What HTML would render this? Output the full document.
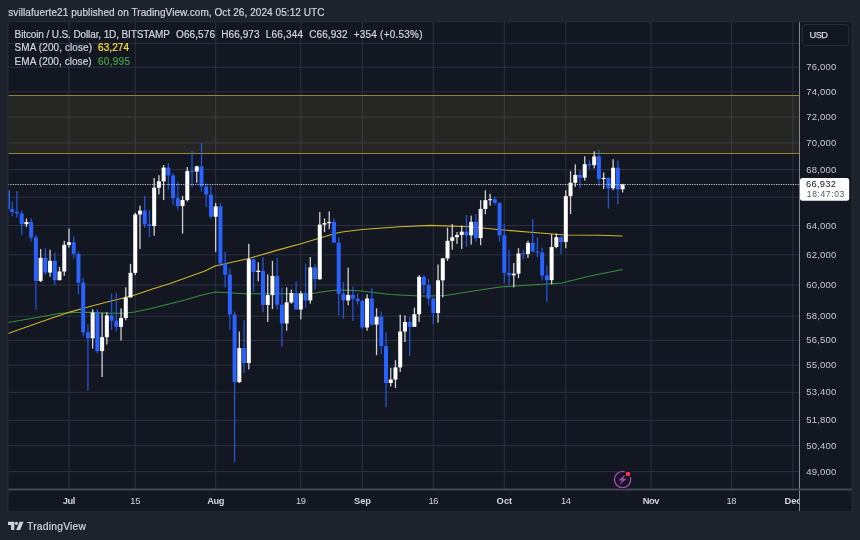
<!DOCTYPE html><html><head><meta charset="utf-8"><title>BTCUSD chart</title><style>
html,body{margin:0;padding:0;background:#1e222d;}
body{width:860px;height:540px;overflow:hidden;position:relative;font-family:"Liberation Sans",Arial,sans-serif;color:#d1d4dc;}
svg{position:absolute;left:0;top:0;}
text{font-family:"Liberation Sans",Arial,sans-serif;}

</style></head><body>
<svg width="860" height="540" viewBox="0 0 860 540">
<rect x="0" y="0" width="860" height="540" fill="#1e222d"/>
<rect x="7.5" y="21" width="845.2" height="491.4" fill="#131722"/>
<g stroke="#2c3144" stroke-width="1">
<line x1="8" y1="43.32" x2="799.5" y2="43.32"/>
<line x1="8" y1="67.25" x2="799.5" y2="67.25"/>
<line x1="8" y1="91.82" x2="799.5" y2="91.82"/>
<line x1="8" y1="117.06" x2="799.5" y2="117.06"/>
<line x1="8" y1="143.01" x2="799.5" y2="143.01"/>
<line x1="8" y1="169.71" x2="799.5" y2="169.71"/>
<line x1="8" y1="197.21" x2="799.5" y2="197.21"/>
<line x1="8" y1="225.56" x2="799.5" y2="225.56"/>
<line x1="8" y1="254.81" x2="799.5" y2="254.81"/>
<line x1="8" y1="285.01" x2="799.5" y2="285.01"/>
<line x1="8" y1="316.24" x2="799.5" y2="316.24"/>
<line x1="8" y1="340.38" x2="799.5" y2="340.38"/>
<line x1="8" y1="365.17" x2="799.5" y2="365.17"/>
<line x1="8" y1="392.36" x2="799.5" y2="392.36"/>
<line x1="8" y1="420.39" x2="799.5" y2="420.39"/>
<line x1="8" y1="445.63" x2="799.5" y2="445.63"/>
<line x1="8" y1="471.58" x2="799.5" y2="471.58"/>
<line x1="69.0" y1="21.5" x2="69.0" y2="489.5"/>
<line x1="135.24" y1="21.5" x2="135.24" y2="489.5"/>
<line x1="215.68" y1="21.5" x2="215.68" y2="489.5"/>
<line x1="300.84" y1="21.5" x2="300.84" y2="489.5"/>
<line x1="362.35" y1="21.5" x2="362.35" y2="489.5"/>
<line x1="433.33" y1="21.5" x2="433.33" y2="489.5"/>
<line x1="504.3" y1="21.5" x2="504.3" y2="489.5"/>
<line x1="565.81" y1="21.5" x2="565.81" y2="489.5"/>
<line x1="650.97" y1="21.5" x2="650.97" y2="489.5"/>
<line x1="731.41" y1="21.5" x2="731.41" y2="489.5"/>
<line x1="792.92" y1="21.5" x2="792.92" y2="489.5"/>
</g>
<rect x="8" y="95" width="791.5" height="58" fill="#d1ad36" fill-opacity="0.1"/>
<line x1="8" y1="95.5" x2="799.5" y2="95.5" stroke="#8f8430" stroke-width="1"/>
<line x1="8" y1="153.5" x2="799.5" y2="153.5" stroke="#8f8430" stroke-width="1"/>
<clipPath id="cp"><rect x="8" y="21.5" width="791.5" height="468.0"/></clipPath>
<g clip-path="url(#cp)">
<path d="M8,322.5 L40,317 L60,313.3 L75,312.5 L91.3,312.4 L108,313.1 L124.7,313.2 L134.7,312 L151,308.5 L160,306.3 L185,300 L200,295.5 L215,292 L245,293.7 L300,293.7 L312,293.5 L325,291.5 L335,290.3 L345,290 L362,291 L390,294.5 L420,296 L430,296 L445,295.5 L480,290 L500,287 L530,285 L562,283 L590,276 L622.5,269.5" fill="none" stroke="#388e3c" stroke-width="1.1" stroke-linejoin="round"/>
<path d="M8,333.6 L25,327.4 L41.3,321.7 L60,315.3 L69.7,312.1 L90,306.5 L108,301.7 L122.5,298.2 L134.7,295 L151,289.6 L170,283.5 L205,271 L215,266 L250,258.2 L277.5,250.1 L300,244 L330,235 L336,233.3 L342,232 L362,229.5 L400,226.7 L430,225.4 L470,226.7 L503,230 L540,233 L566,235 L600,235.3 L622.5,236" fill="none" stroke="#cfb62d" stroke-width="1.1" stroke-linejoin="round"/>
<rect x="6.84" y="188.92" width="1.3" height="35.96" fill="#2962ff" opacity="0.8"/>
<rect x="6.00" y="190.31" width="4.0" height="18.89" fill="#2962ff"/>
<rect x="11.57" y="201.46" width="1.3" height="14.84" fill="#2962ff" opacity="0.8"/>
<rect x="10.22" y="209.20" width="4.0" height="2.69" fill="#2962ff"/>
<rect x="16.30" y="191.00" width="1.3" height="26.72" fill="#2962ff" opacity="0.8"/>
<rect x="14.95" y="211.89" width="4.0" height="1.56" fill="#2962ff"/>
<rect x="21.04" y="210.62" width="1.3" height="24.39" fill="#2962ff" opacity="0.8"/>
<rect x="19.69" y="213.45" width="4.0" height="10.72" fill="#2962ff"/>
<rect x="25.77" y="218.44" width="1.3" height="8.61" fill="#ffffff" opacity="0.8"/>
<rect x="24.42" y="222.02" width="4.0" height="2.15" fill="#ffffff"/>
<rect x="30.50" y="218.44" width="1.3" height="23.14" fill="#2962ff" opacity="0.8"/>
<rect x="29.15" y="222.02" width="4.0" height="15.47" fill="#2962ff"/>
<rect x="35.23" y="235.01" width="1.3" height="74.95" fill="#2962ff" opacity="0.8"/>
<rect x="33.88" y="237.49" width="4.0" height="43.44" fill="#2962ff"/>
<rect x="39.96" y="248.93" width="1.3" height="33.06" fill="#ffffff" opacity="0.8"/>
<rect x="38.61" y="257.83" width="4.0" height="23.09" fill="#ffffff"/>
<rect x="44.69" y="248.19" width="1.3" height="26.94" fill="#2962ff" opacity="0.8"/>
<rect x="43.34" y="257.83" width="4.0" height="14.73" fill="#2962ff"/>
<rect x="49.42" y="249.67" width="1.3" height="26.99" fill="#ffffff" opacity="0.8"/>
<rect x="48.07" y="260.82" width="4.0" height="11.74" fill="#ffffff"/>
<rect x="54.16" y="252.63" width="1.3" height="32.43" fill="#2962ff" opacity="0.8"/>
<rect x="52.81" y="260.82" width="4.0" height="19.34" fill="#2962ff"/>
<rect x="58.89" y="266.82" width="1.3" height="13.65" fill="#ffffff" opacity="0.8"/>
<rect x="57.54" y="271.50" width="4.0" height="8.66" fill="#ffffff"/>
<rect x="63.62" y="240.85" width="1.3" height="35.05" fill="#ffffff" opacity="0.8"/>
<rect x="62.27" y="244.81" width="4.0" height="26.69" fill="#ffffff"/>
<rect x="68.35" y="228.49" width="1.3" height="18.96" fill="#ffffff" opacity="0.8"/>
<rect x="67.00" y="242.31" width="4.0" height="2.50" fill="#ffffff"/>
<rect x="73.08" y="236.47" width="1.3" height="22.11" fill="#2962ff" opacity="0.8"/>
<rect x="71.73" y="242.31" width="4.0" height="11.50" fill="#2962ff"/>
<rect x="77.81" y="251.15" width="1.3" height="43.17" fill="#2962ff" opacity="0.8"/>
<rect x="76.46" y="253.82" width="4.0" height="28.95" fill="#2962ff"/>
<rect x="82.54" y="278.18" width="1.3" height="58.18" fill="#2962ff" opacity="0.8"/>
<rect x="81.19" y="282.76" width="4.0" height="49.55" fill="#2962ff"/>
<rect x="87.28" y="324.27" width="1.3" height="66.42" fill="#2962ff" opacity="0.8"/>
<rect x="85.93" y="332.31" width="4.0" height="6.00" fill="#2962ff"/>
<rect x="92.01" y="309.17" width="1.3" height="39.45" fill="#ffffff" opacity="0.8"/>
<rect x="90.66" y="312.65" width="4.0" height="25.67" fill="#ffffff"/>
<rect x="96.74" y="309.17" width="1.3" height="44.39" fill="#2962ff" opacity="0.8"/>
<rect x="95.39" y="312.65" width="4.0" height="38.44" fill="#2962ff"/>
<rect x="101.47" y="313.12" width="1.3" height="63.90" fill="#ffffff" opacity="0.8"/>
<rect x="100.12" y="337.17" width="4.0" height="13.91" fill="#ffffff"/>
<rect x="106.20" y="312.33" width="1.3" height="32.18" fill="#ffffff" opacity="0.8"/>
<rect x="104.85" y="315.50" width="4.0" height="21.68" fill="#ffffff"/>
<rect x="110.93" y="293.54" width="1.3" height="36.35" fill="#2962ff" opacity="0.8"/>
<rect x="109.58" y="315.50" width="4.0" height="5.25" fill="#2962ff"/>
<rect x="115.66" y="292.77" width="1.3" height="38.73" fill="#2962ff" opacity="0.8"/>
<rect x="114.31" y="320.75" width="4.0" height="6.08" fill="#2962ff"/>
<rect x="120.40" y="308.38" width="1.3" height="32.04" fill="#ffffff" opacity="0.8"/>
<rect x="119.05" y="318.04" width="4.0" height="8.79" fill="#ffffff"/>
<rect x="125.13" y="287.37" width="1.3" height="32.90" fill="#ffffff" opacity="0.8"/>
<rect x="123.78" y="297.43" width="4.0" height="20.61" fill="#ffffff"/>
<rect x="129.86" y="263.81" width="1.3" height="33.61" fill="#ffffff" opacity="0.8"/>
<rect x="128.51" y="272.86" width="4.0" height="24.57" fill="#ffffff"/>
<rect x="134.59" y="212.74" width="1.3" height="62.39" fill="#ffffff" opacity="0.8"/>
<rect x="133.24" y="214.45" width="4.0" height="58.41" fill="#ffffff"/>
<rect x="139.32" y="205.67" width="1.3" height="43.26" fill="#ffffff" opacity="0.8"/>
<rect x="137.97" y="210.62" width="4.0" height="3.83" fill="#ffffff"/>
<rect x="144.05" y="195.87" width="1.3" height="31.90" fill="#2962ff" opacity="0.8"/>
<rect x="142.70" y="210.62" width="4.0" height="13.70" fill="#2962ff"/>
<rect x="148.79" y="209.91" width="1.3" height="27.29" fill="#2962ff" opacity="0.8"/>
<rect x="147.44" y="224.31" width="4.0" height="1.73" fill="#2962ff"/>
<rect x="153.52" y="177.93" width="1.3" height="57.81" fill="#ffffff" opacity="0.8"/>
<rect x="152.17" y="187.68" width="4.0" height="38.36" fill="#ffffff"/>
<rect x="158.25" y="175.20" width="1.3" height="19.28" fill="#ffffff" opacity="0.8"/>
<rect x="156.90" y="181.35" width="4.0" height="6.33" fill="#ffffff"/>
<rect x="162.98" y="165.03" width="1.3" height="35.03" fill="#ffffff" opacity="0.8"/>
<rect x="161.63" y="167.60" width="4.0" height="13.75" fill="#ffffff"/>
<rect x="167.71" y="163.01" width="1.3" height="26.60" fill="#2962ff" opacity="0.8"/>
<rect x="166.36" y="167.60" width="4.0" height="7.87" fill="#2962ff"/>
<rect x="172.44" y="173.15" width="1.3" height="31.82" fill="#2962ff" opacity="0.8"/>
<rect x="171.09" y="175.47" width="4.0" height="22.77" fill="#2962ff"/>
<rect x="177.17" y="182.03" width="1.3" height="27.88" fill="#2962ff" opacity="0.8"/>
<rect x="175.82" y="198.24" width="4.0" height="7.86" fill="#2962ff"/>
<rect x="181.91" y="195.87" width="1.3" height="37.69" fill="#ffffff" opacity="0.8"/>
<rect x="180.56" y="200.06" width="4.0" height="6.04" fill="#ffffff"/>
<rect x="186.64" y="167.06" width="1.3" height="34.40" fill="#ffffff" opacity="0.8"/>
<rect x="185.29" y="171.12" width="4.0" height="28.94" fill="#ffffff"/>
<rect x="191.37" y="150.99" width="1.3" height="36.55" fill="#2962ff" opacity="0.8"/>
<rect x="190.02" y="170.82" width="4.0" height="1.00" fill="#2962ff"/>
<rect x="196.10" y="165.71" width="1.3" height="17.02" fill="#ffffff" opacity="0.8"/>
<rect x="194.75" y="166.38" width="4.0" height="5.14" fill="#ffffff"/>
<rect x="200.83" y="143.06" width="1.3" height="48.64" fill="#2962ff" opacity="0.8"/>
<rect x="199.48" y="166.38" width="4.0" height="20.06" fill="#2962ff"/>
<rect x="205.56" y="183.41" width="1.3" height="23.68" fill="#2962ff" opacity="0.8"/>
<rect x="204.21" y="186.44" width="4.0" height="8.17" fill="#2962ff"/>
<rect x="210.29" y="185.47" width="1.3" height="32.97" fill="#2962ff" opacity="0.8"/>
<rect x="208.94" y="194.61" width="4.0" height="22.11" fill="#2962ff"/>
<rect x="215.03" y="202.86" width="1.3" height="49.03" fill="#ffffff" opacity="0.8"/>
<rect x="213.68" y="206.38" width="4.0" height="10.35" fill="#ffffff"/>
<rect x="219.76" y="202.86" width="1.3" height="63.96" fill="#2962ff" opacity="0.8"/>
<rect x="218.41" y="206.38" width="4.0" height="57.13" fill="#2962ff"/>
<rect x="224.49" y="251.89" width="1.3" height="35.48" fill="#2962ff" opacity="0.8"/>
<rect x="223.14" y="263.51" width="4.0" height="11.17" fill="#2962ff"/>
<rect x="229.22" y="268.33" width="1.3" height="61.57" fill="#2962ff" opacity="0.8"/>
<rect x="227.87" y="274.68" width="4.0" height="39.71" fill="#2962ff"/>
<rect x="233.95" y="311.54" width="1.3" height="150.74" fill="#2962ff" opacity="0.8"/>
<rect x="232.60" y="314.39" width="4.0" height="67.73" fill="#2962ff"/>
<rect x="238.68" y="331.51" width="1.3" height="51.47" fill="#ffffff" opacity="0.8"/>
<rect x="237.33" y="348.12" width="4.0" height="34.00" fill="#ffffff"/>
<rect x="243.42" y="320.27" width="1.3" height="52.51" fill="#2962ff" opacity="0.8"/>
<rect x="242.07" y="348.12" width="4.0" height="14.92" fill="#2962ff"/>
<rect x="248.15" y="243.78" width="1.3" height="125.63" fill="#ffffff" opacity="0.8"/>
<rect x="246.80" y="259.32" width="4.0" height="103.72" fill="#ffffff"/>
<rect x="252.88" y="258.58" width="1.3" height="33.42" fill="#2962ff" opacity="0.8"/>
<rect x="251.53" y="259.32" width="4.0" height="12.63" fill="#2962ff"/>
<rect x="257.61" y="262.31" width="1.3" height="18.92" fill="#ffffff" opacity="0.8"/>
<rect x="256.26" y="270.74" width="4.0" height="1.21" fill="#ffffff"/>
<rect x="262.34" y="257.09" width="1.3" height="55.24" fill="#2962ff" opacity="0.8"/>
<rect x="260.99" y="270.74" width="4.0" height="34.19" fill="#2962ff"/>
<rect x="267.07" y="274.38" width="1.3" height="47.49" fill="#ffffff" opacity="0.8"/>
<rect x="265.72" y="295.10" width="4.0" height="9.83" fill="#ffffff"/>
<rect x="271.80" y="260.82" width="1.3" height="48.35" fill="#ffffff" opacity="0.8"/>
<rect x="270.45" y="275.90" width="4.0" height="19.20" fill="#ffffff"/>
<rect x="276.54" y="257.83" width="1.3" height="51.34" fill="#2962ff" opacity="0.8"/>
<rect x="275.19" y="275.90" width="4.0" height="28.87" fill="#2962ff"/>
<rect x="281.27" y="287.37" width="1.3" height="59.61" fill="#2962ff" opacity="0.8"/>
<rect x="279.92" y="304.77" width="4.0" height="18.70" fill="#2962ff"/>
<rect x="286.00" y="287.37" width="1.3" height="43.33" fill="#ffffff" opacity="0.8"/>
<rect x="284.65" y="302.42" width="4.0" height="21.05" fill="#ffffff"/>
<rect x="290.73" y="289.68" width="1.3" height="13.99" fill="#ffffff" opacity="0.8"/>
<rect x="289.38" y="293.08" width="4.0" height="9.34" fill="#ffffff"/>
<rect x="295.46" y="281.23" width="1.3" height="28.73" fill="#2962ff" opacity="0.8"/>
<rect x="294.11" y="293.08" width="4.0" height="16.41" fill="#2962ff"/>
<rect x="300.19" y="291.22" width="1.3" height="28.25" fill="#ffffff" opacity="0.8"/>
<rect x="298.84" y="293.70" width="4.0" height="15.79" fill="#ffffff"/>
<rect x="304.93" y="263.81" width="1.3" height="43.78" fill="#2962ff" opacity="0.8"/>
<rect x="303.57" y="293.70" width="4.0" height="6.69" fill="#2962ff"/>
<rect x="309.66" y="257.09" width="1.3" height="46.59" fill="#ffffff" opacity="0.8"/>
<rect x="308.31" y="267.42" width="4.0" height="32.97" fill="#ffffff"/>
<rect x="314.39" y="263.81" width="1.3" height="25.87" fill="#2962ff" opacity="0.8"/>
<rect x="313.04" y="267.42" width="4.0" height="11.82" fill="#2962ff"/>
<rect x="319.12" y="212.03" width="1.3" height="67.67" fill="#ffffff" opacity="0.8"/>
<rect x="317.77" y="224.60" width="4.0" height="54.64" fill="#ffffff"/>
<rect x="323.85" y="218.44" width="1.3" height="13.67" fill="#ffffff" opacity="0.8"/>
<rect x="322.50" y="223.16" width="4.0" height="1.44" fill="#ffffff"/>
<rect x="328.58" y="211.33" width="1.3" height="17.89" fill="#ffffff" opacity="0.8"/>
<rect x="327.23" y="221.87" width="4.0" height="1.29" fill="#ffffff"/>
<rect x="333.31" y="218.44" width="1.3" height="24.61" fill="#2962ff" opacity="0.8"/>
<rect x="331.96" y="221.87" width="4.0" height="20.73" fill="#2962ff"/>
<rect x="338.05" y="237.20" width="1.3" height="78.30" fill="#2962ff" opacity="0.8"/>
<rect x="336.70" y="242.60" width="4.0" height="51.25" fill="#2962ff"/>
<rect x="342.78" y="282.00" width="1.3" height="36.68" fill="#2962ff" opacity="0.8"/>
<rect x="341.43" y="293.85" width="4.0" height="6.53" fill="#2962ff"/>
<rect x="347.51" y="267.57" width="1.3" height="37.67" fill="#ffffff" opacity="0.8"/>
<rect x="346.16" y="294.94" width="4.0" height="5.45" fill="#ffffff"/>
<rect x="352.24" y="286.60" width="1.3" height="34.47" fill="#2962ff" opacity="0.8"/>
<rect x="350.89" y="294.94" width="4.0" height="3.73" fill="#2962ff"/>
<rect x="356.97" y="293.54" width="1.3" height="10.91" fill="#2962ff" opacity="0.8"/>
<rect x="355.62" y="298.67" width="4.0" height="2.34" fill="#2962ff"/>
<rect x="361.70" y="299.76" width="1.3" height="29.32" fill="#2962ff" opacity="0.8"/>
<rect x="360.35" y="301.01" width="4.0" height="26.46" fill="#2962ff"/>
<rect x="366.43" y="294.32" width="1.3" height="36.38" fill="#ffffff" opacity="0.8"/>
<rect x="365.08" y="298.52" width="4.0" height="28.96" fill="#ffffff"/>
<rect x="371.17" y="288.14" width="1.3" height="37.73" fill="#2962ff" opacity="0.8"/>
<rect x="369.82" y="298.52" width="4.0" height="26.07" fill="#2962ff"/>
<rect x="375.90" y="308.38" width="1.3" height="46.84" fill="#ffffff" opacity="0.8"/>
<rect x="374.55" y="316.77" width="4.0" height="7.82" fill="#ffffff"/>
<rect x="380.63" y="311.54" width="1.3" height="42.85" fill="#2962ff" opacity="0.8"/>
<rect x="379.28" y="316.77" width="4.0" height="29.22" fill="#2962ff"/>
<rect x="385.36" y="332.31" width="1.3" height="74.88" fill="#2962ff" opacity="0.8"/>
<rect x="384.01" y="345.99" width="4.0" height="36.98" fill="#2962ff"/>
<rect x="390.09" y="367.73" width="1.3" height="18.66" fill="#ffffff" opacity="0.8"/>
<rect x="388.74" y="379.56" width="4.0" height="3.41" fill="#ffffff"/>
<rect x="394.82" y="360.21" width="1.3" height="27.90" fill="#ffffff" opacity="0.8"/>
<rect x="393.47" y="367.40" width="4.0" height="12.17" fill="#ffffff"/>
<rect x="399.56" y="314.70" width="1.3" height="57.24" fill="#ffffff" opacity="0.8"/>
<rect x="398.20" y="331.51" width="4.0" height="35.89" fill="#ffffff"/>
<rect x="404.29" y="315.50" width="1.3" height="26.56" fill="#ffffff" opacity="0.8"/>
<rect x="402.94" y="322.03" width="4.0" height="9.48" fill="#ffffff"/>
<rect x="409.02" y="317.09" width="1.3" height="38.96" fill="#2962ff" opacity="0.8"/>
<rect x="407.67" y="322.03" width="4.0" height="4.81" fill="#2962ff"/>
<rect x="413.75" y="307.60" width="1.3" height="19.08" fill="#ffffff" opacity="0.8"/>
<rect x="412.40" y="314.23" width="4.0" height="12.61" fill="#ffffff"/>
<rect x="418.48" y="275.14" width="1.3" height="46.73" fill="#ffffff" opacity="0.8"/>
<rect x="417.13" y="276.81" width="4.0" height="37.42" fill="#ffffff"/>
<rect x="423.21" y="275.14" width="1.3" height="18.41" fill="#2962ff" opacity="0.8"/>
<rect x="421.86" y="276.81" width="4.0" height="8.25" fill="#2962ff"/>
<rect x="427.94" y="278.94" width="1.3" height="26.30" fill="#2962ff" opacity="0.8"/>
<rect x="426.59" y="285.06" width="4.0" height="13.46" fill="#2962ff"/>
<rect x="432.68" y="297.43" width="1.3" height="26.84" fill="#2962ff" opacity="0.8"/>
<rect x="431.33" y="298.52" width="4.0" height="14.45" fill="#2962ff"/>
<rect x="437.41" y="264.56" width="1.3" height="58.10" fill="#ffffff" opacity="0.8"/>
<rect x="436.06" y="280.31" width="4.0" height="32.65" fill="#ffffff"/>
<rect x="442.14" y="257.83" width="1.3" height="39.59" fill="#ffffff" opacity="0.8"/>
<rect x="440.79" y="258.43" width="4.0" height="21.89" fill="#ffffff"/>
<rect x="446.87" y="227.77" width="1.3" height="33.05" fill="#ffffff" opacity="0.8"/>
<rect x="445.52" y="240.85" width="4.0" height="17.58" fill="#ffffff"/>
<rect x="451.60" y="224.17" width="1.3" height="25.50" fill="#ffffff" opacity="0.8"/>
<rect x="450.25" y="237.20" width="4.0" height="3.65" fill="#ffffff"/>
<rect x="456.33" y="232.11" width="1.3" height="11.67" fill="#ffffff" opacity="0.8"/>
<rect x="454.98" y="235.01" width="4.0" height="2.18" fill="#ffffff"/>
<rect x="461.06" y="225.61" width="1.3" height="23.32" fill="#ffffff" opacity="0.8"/>
<rect x="459.71" y="231.67" width="4.0" height="3.34" fill="#ffffff"/>
<rect x="465.80" y="214.88" width="1.3" height="31.84" fill="#2962ff" opacity="0.8"/>
<rect x="464.45" y="231.67" width="4.0" height="3.63" fill="#2962ff"/>
<rect x="470.53" y="215.59" width="1.3" height="28.93" fill="#ffffff" opacity="0.8"/>
<rect x="469.18" y="221.87" width="4.0" height="13.43" fill="#ffffff"/>
<rect x="475.26" y="214.16" width="1.3" height="27.41" fill="#2962ff" opacity="0.8"/>
<rect x="473.91" y="221.87" width="4.0" height="16.20" fill="#2962ff"/>
<rect x="479.99" y="200.06" width="1.3" height="45.19" fill="#ffffff" opacity="0.8"/>
<rect x="478.64" y="208.92" width="4.0" height="29.15" fill="#ffffff"/>
<rect x="484.72" y="190.31" width="1.3" height="23.86" fill="#ffffff" opacity="0.8"/>
<rect x="483.37" y="200.20" width="4.0" height="8.72" fill="#ffffff"/>
<rect x="489.45" y="193.78" width="1.3" height="11.90" fill="#ffffff" opacity="0.8"/>
<rect x="488.10" y="199.21" width="4.0" height="1.00" fill="#ffffff"/>
<rect x="494.19" y="196.56" width="1.3" height="8.41" fill="#2962ff" opacity="0.8"/>
<rect x="492.83" y="199.22" width="4.0" height="3.64" fill="#2962ff"/>
<rect x="498.92" y="202.86" width="1.3" height="38.72" fill="#2962ff" opacity="0.8"/>
<rect x="497.57" y="202.86" width="4.0" height="32.44" fill="#2962ff"/>
<rect x="503.65" y="224.17" width="1.3" height="58.59" fill="#2962ff" opacity="0.8"/>
<rect x="502.30" y="235.30" width="4.0" height="37.56" fill="#2962ff"/>
<rect x="508.38" y="249.67" width="1.3" height="35.39" fill="#2962ff" opacity="0.8"/>
<rect x="507.03" y="272.86" width="4.0" height="2.43" fill="#2962ff"/>
<rect x="513.11" y="263.06" width="1.3" height="24.30" fill="#ffffff" opacity="0.8"/>
<rect x="511.76" y="273.62" width="4.0" height="1.67" fill="#ffffff"/>
<rect x="517.84" y="248.19" width="1.3" height="29.98" fill="#ffffff" opacity="0.8"/>
<rect x="516.49" y="253.52" width="4.0" height="20.10" fill="#ffffff"/>
<rect x="522.57" y="249.67" width="1.3" height="9.65" fill="#2962ff" opacity="0.8"/>
<rect x="521.22" y="253.24" width="4.0" height="1.00" fill="#2962ff"/>
<rect x="527.31" y="240.85" width="1.3" height="16.98" fill="#ffffff" opacity="0.8"/>
<rect x="525.96" y="242.90" width="4.0" height="11.07" fill="#ffffff"/>
<rect x="532.04" y="219.15" width="1.3" height="33.48" fill="#2962ff" opacity="0.8"/>
<rect x="530.69" y="242.90" width="4.0" height="8.69" fill="#2962ff"/>
<rect x="536.77" y="237.20" width="1.3" height="19.89" fill="#2962ff" opacity="0.8"/>
<rect x="535.42" y="251.54" width="4.0" height="1.00" fill="#2962ff"/>
<rect x="541.50" y="247.46" width="1.3" height="33.01" fill="#2962ff" opacity="0.8"/>
<rect x="540.15" y="252.48" width="4.0" height="22.96" fill="#2962ff"/>
<rect x="546.23" y="265.32" width="1.3" height="36.79" fill="#2962ff" opacity="0.8"/>
<rect x="544.88" y="275.44" width="4.0" height="4.72" fill="#2962ff"/>
<rect x="550.96" y="234.29" width="1.3" height="50.01" fill="#ffffff" opacity="0.8"/>
<rect x="549.61" y="247.01" width="4.0" height="33.15" fill="#ffffff"/>
<rect x="555.69" y="233.56" width="1.3" height="14.63" fill="#ffffff" opacity="0.8"/>
<rect x="554.34" y="237.20" width="4.0" height="9.82" fill="#ffffff"/>
<rect x="560.43" y="235.74" width="1.3" height="18.37" fill="#2962ff" opacity="0.8"/>
<rect x="559.08" y="237.20" width="4.0" height="4.82" fill="#2962ff"/>
<rect x="565.16" y="190.31" width="1.3" height="57.88" fill="#ffffff" opacity="0.8"/>
<rect x="563.81" y="196.15" width="4.0" height="45.87" fill="#ffffff"/>
<rect x="569.89" y="171.12" width="1.3" height="43.05" fill="#ffffff" opacity="0.8"/>
<rect x="568.54" y="182.72" width="4.0" height="13.42" fill="#ffffff"/>
<rect x="574.62" y="164.36" width="1.3" height="22.49" fill="#ffffff" opacity="0.8"/>
<rect x="573.27" y="174.92" width="4.0" height="7.80" fill="#ffffff"/>
<rect x="579.35" y="170.44" width="1.3" height="17.79" fill="#2962ff" opacity="0.8"/>
<rect x="578.00" y="174.92" width="4.0" height="2.73" fill="#2962ff"/>
<rect x="584.08" y="156.31" width="1.3" height="24.35" fill="#ffffff" opacity="0.8"/>
<rect x="582.73" y="164.22" width="4.0" height="13.43" fill="#ffffff"/>
<rect x="588.81" y="160.33" width="1.3" height="8.76" fill="#2962ff" opacity="0.8"/>
<rect x="587.46" y="164.19" width="4.0" height="1.00" fill="#2962ff"/>
<rect x="593.55" y="151.39" width="1.3" height="17.02" fill="#ffffff" opacity="0.8"/>
<rect x="592.20" y="156.45" width="4.0" height="8.72" fill="#ffffff"/>
<rect x="598.28" y="150.06" width="1.3" height="36.10" fill="#2962ff" opacity="0.8"/>
<rect x="596.93" y="156.45" width="4.0" height="22.44" fill="#2962ff"/>
<rect x="603.01" y="172.47" width="1.3" height="16.45" fill="#ffffff" opacity="0.8"/>
<rect x="601.66" y="177.90" width="4.0" height="1.00" fill="#ffffff"/>
<rect x="607.74" y="177.24" width="1.3" height="31.25" fill="#2962ff" opacity="0.8"/>
<rect x="606.39" y="177.93" width="4.0" height="10.31" fill="#2962ff"/>
<rect x="612.47" y="159.25" width="1.3" height="31.05" fill="#ffffff" opacity="0.8"/>
<rect x="611.12" y="167.73" width="4.0" height="20.50" fill="#ffffff"/>
<rect x="617.20" y="160.33" width="1.3" height="43.94" fill="#2962ff" opacity="0.8"/>
<rect x="615.85" y="167.73" width="4.0" height="21.53" fill="#2962ff"/>
<rect x="621.94" y="183.78" width="1.3" height="8.69" fill="#ffffff" opacity="0.8"/>
<rect x="620.59" y="184.34" width="4.0" height="4.91" fill="#ffffff"/>
</g>
<line x1="8" y1="184.5" x2="799.5" y2="184.5" stroke="#d9dadf" stroke-width="1" stroke-dasharray="1.2 1.2" opacity="0.9"/>
<line x1="799.5" y1="21.5" x2="799.5" y2="511.5" stroke="#85878e" stroke-width="1"/>
<line x1="8" y1="489.6" x2="852" y2="489.6" stroke="#464952" stroke-width="2"/>
<rect x="7.9" y="21.6" width="844.4" height="490.2" fill="none" stroke="#252935" stroke-width="1.4"/>
<text x="806.2" y="70.2" font-size="9.5" fill="#c8cbd3" textLength="30" lengthAdjust="spacing">76,000</text>
<text x="806.2" y="94.8" font-size="9.5" fill="#c8cbd3" textLength="30" lengthAdjust="spacing">74,000</text>
<text x="806.2" y="120.0" font-size="9.5" fill="#c8cbd3" textLength="30" lengthAdjust="spacing">72,000</text>
<text x="806.2" y="146.0" font-size="9.5" fill="#c8cbd3" textLength="30" lengthAdjust="spacing">70,000</text>
<text x="806.2" y="172.7" font-size="9.5" fill="#c8cbd3" textLength="30" lengthAdjust="spacing">68,000</text>
<text x="806.2" y="228.5" font-size="9.5" fill="#c8cbd3" textLength="30" lengthAdjust="spacing">64,000</text>
<text x="806.2" y="257.8" font-size="9.5" fill="#c8cbd3" textLength="30" lengthAdjust="spacing">62,000</text>
<text x="806.2" y="288.0" font-size="9.5" fill="#c8cbd3" textLength="30" lengthAdjust="spacing">60,000</text>
<text x="806.2" y="319.2" font-size="9.5" fill="#c8cbd3" textLength="30" lengthAdjust="spacing">58,000</text>
<text x="806.2" y="343.3" font-size="9.5" fill="#c8cbd3" textLength="30" lengthAdjust="spacing">56,500</text>
<text x="806.2" y="368.1" font-size="9.5" fill="#c8cbd3" textLength="30" lengthAdjust="spacing">55,000</text>
<text x="806.2" y="395.3" font-size="9.5" fill="#c8cbd3" textLength="30" lengthAdjust="spacing">53,400</text>
<text x="806.2" y="423.3" font-size="9.5" fill="#c8cbd3" textLength="30" lengthAdjust="spacing">51,800</text>
<text x="806.2" y="448.6" font-size="9.5" fill="#c8cbd3" textLength="30" lengthAdjust="spacing">50,400</text>
<text x="806.2" y="474.5" font-size="9.5" fill="#c8cbd3" textLength="30" lengthAdjust="spacing">49,000</text>
<rect x="800" y="178" width="49.2" height="22.7" rx="2.5" fill="#ffffff"/>
<text x="806" y="186.9" font-size="9.4" fill="#131722" textLength="30" lengthAdjust="spacing">66,932</text>
<text x="806.8" y="197.1" font-size="8.5" fill="#50535e" textLength="37.5" lengthAdjust="spacing">18:47:03</text>
<rect x="802.4" y="24.5" width="46.4" height="21.2" rx="3.2" fill="none" stroke="#2a2e39" stroke-width="1"/>
<text x="809.6" y="38.2" font-size="9.3" fill="#d1d4dc" textLength="18.4" lengthAdjust="spacing" stroke="#d1d4dc" stroke-width="0.25">USD</text>
<text x="62.7" y="504" font-size="9.3" fill="#d1d4dc" textLength="12.7" lengthAdjust="spacing" font-weight="bold">Jul</text>
<text x="130.2" y="504" font-size="9.3" fill="#d1d4dc" textLength="10.2" lengthAdjust="spacing">15</text>
<text x="207.2" y="504" font-size="9.3" fill="#d1d4dc" textLength="17.2" lengthAdjust="spacing" font-weight="bold">Aug</text>
<text x="295.9" y="504" font-size="9.3" fill="#d1d4dc" textLength="10" lengthAdjust="spacing">19</text>
<text x="354.0" y="504" font-size="9.3" fill="#d1d4dc" textLength="17" lengthAdjust="spacing" font-weight="bold">Sep</text>
<text x="428.4" y="504" font-size="9.3" fill="#d1d4dc" textLength="10" lengthAdjust="spacing">16</text>
<text x="496.6" y="504" font-size="9.3" fill="#d1d4dc" textLength="15.6" lengthAdjust="spacing" font-weight="bold">Oct</text>
<text x="560.9" y="504" font-size="9.3" fill="#d1d4dc" textLength="10" lengthAdjust="spacing">14</text>
<text x="642.7" y="504" font-size="9.3" fill="#d1d4dc" textLength="16.7" lengthAdjust="spacing" font-weight="bold">Nov</text>
<text x="726.5" y="504" font-size="9.3" fill="#d1d4dc" textLength="10" lengthAdjust="spacing">18</text>
<clipPath id="cpd"><rect x="8" y="489.5" width="791.5" height="30"/></clipPath>
<text x="784.5" y="504" font-size="9.3" fill="#d1d4dc" textLength="17" lengthAdjust="spacing" font-weight="bold" clip-path="url(#cpd)">Dec</text>
<text x="8.3" y="16.1" font-size="10" fill="#d1d4dc" textLength="316.2" lengthAdjust="spacing" stroke="#d1d4dc" stroke-width="0.2">svillafuerte21 published on TradingView.com, Oct 26, 2024 05:12 UTC</text>
<text x="14.6" y="38" font-size="10" fill="#d1d4dc" textLength="155.4" lengthAdjust="spacing" stroke="#d1d4dc" stroke-width="0.2">Bitcoin / U.S. Dollar, 1D, BITSTAMP</text>
<text x="176" y="38" font-size="10" fill="#d1d4dc" textLength="39" lengthAdjust="spacing" stroke="#d1d4dc" stroke-width="0.2">O66,576</text>
<text x="221.2" y="38" font-size="10" fill="#d1d4dc" textLength="38.3" lengthAdjust="spacing" stroke="#d1d4dc" stroke-width="0.2">H66,973</text>
<text x="265.7" y="38" font-size="10" fill="#d1d4dc" textLength="37.3" lengthAdjust="spacing" stroke="#d1d4dc" stroke-width="0.2">L66,344</text>
<text x="309.2" y="38" font-size="10" fill="#d1d4dc" textLength="38.3" lengthAdjust="spacing" stroke="#d1d4dc" stroke-width="0.2">C66,932</text>
<text x="353.7" y="38" font-size="10" fill="#d1d4dc" textLength="68.8" lengthAdjust="spacing" stroke="#d1d4dc" stroke-width="0.2">+354 (+0.53%)</text>
<text x="14.6" y="51.4" font-size="10" fill="#d1d4dc" textLength="77.4" lengthAdjust="spacing" stroke="#d1d4dc" stroke-width="0.2">SMA (200, close)</text>
<text x="98" y="51.4" font-size="10" fill="#ffe033" textLength="31" lengthAdjust="spacing" stroke="#ffe033" stroke-width="0.2">63,274</text>
<text x="14.6" y="65" font-size="10" fill="#d1d4dc" textLength="77" lengthAdjust="spacing" stroke="#d1d4dc" stroke-width="0.2">EMA (200, close)</text>
<text x="98" y="65" font-size="10" fill="#43a047" textLength="32" lengthAdjust="spacing" stroke="#43a047" stroke-width="0.2">60,995</text>
<circle cx="622.6" cy="479.5" r="9.6" fill="#131722"/>
<circle cx="622.6" cy="479.5" r="8.15" fill="none" stroke="#ab47bc" stroke-width="1.3"/>
<path d="M624.9 475 L618.9 480.3 L622.4 480.3 L619.9 484.2 L626.2 479 L622.9 479 Z" fill="#ab47bc" stroke="#ab47bc" stroke-width="0.4" stroke-linejoin="round"/>
<circle cx="628" cy="474" r="3.7" fill="#131722"/><circle cx="628" cy="474" r="2.35" fill="#f23645"/>
<g fill="#d1d4dc"><path d="M8 521.7 h6.3 v8.2 h-3.2 v-4.9 h-3.1 z"/><circle cx="16.4" cy="523.3" r="1.6"/><path d="M19.6 521.7 h3.9 l-3.4 8.2 h-3.9 z"/></g>
<text x="27" y="529.7" font-size="10.3" fill="#d1d4dc" textLength="59" lengthAdjust="spacing" stroke="#d1d4dc" stroke-width="0.2">TradingView</text>
</svg></body></html>
